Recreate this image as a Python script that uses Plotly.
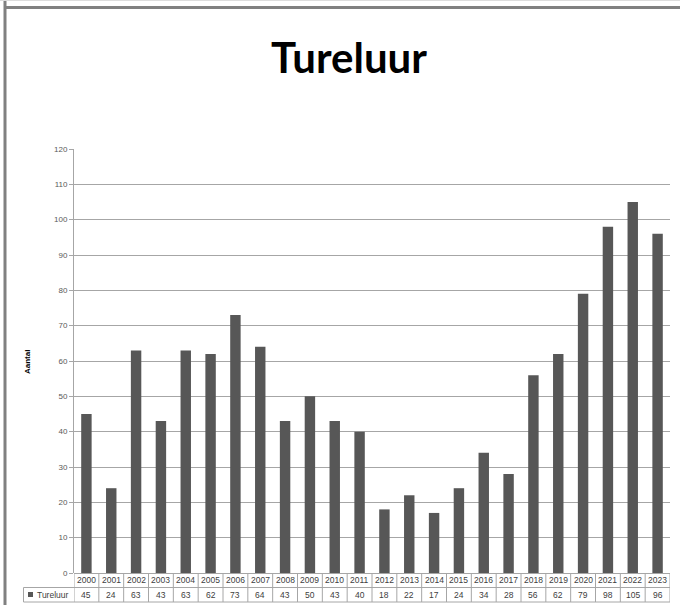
import plotly.graph_objects as go

years = [str(y) for y in range(2000, 2024)]
counts = [45, 24, 63, 43, 63, 62, 73, 64, 43, 50, 43, 40, 18, 22, 17, 24, 34, 28, 56, 62, 79, 98, 105, 96]
series_name = "Tureluur"
title_text = "Tureluur"
y_title = "Aantal"
y_ticks = list(range(0, 121, 10))

W, H = 680, 605
L, R, T, B = 74, 10, 149, 32
PW = W - L - R
PH = H - T - B

def px_x(px):
    return (px - L) / PW

def px_y(py):
    return (H - B - py) / PH

xs = list(range(len(years)))

fig = go.Figure()
fig.add_trace(go.Bar(x=xs, y=counts, marker=dict(color="#575757", line=dict(width=0)),
                     name=series_name, showlegend=False))

shapes = []
grid_col = "#a6a6a6"
row1_top, row_mid, row_bot = 573, 587.5, 602
for i in range(len(years) + 1):
    shapes.append(dict(type="line", xref="x", yref="paper", x0=i - 0.5, x1=i - 0.5,
                       y0=px_y(row1_top), y1=px_y(row_bot), line=dict(color=grid_col, width=1)))
shapes.append(dict(type="line", xref="paper", yref="paper", x0=px_x(23.5), x1=1,
                   y0=px_y(row_mid), y1=px_y(row_mid), line=dict(color=grid_col, width=1)))
shapes.append(dict(type="line", xref="paper", yref="paper", x0=px_x(23.5), x1=1,
                   y0=px_y(row_bot), y1=px_y(row_bot), line=dict(color=grid_col, width=1)))
shapes.append(dict(type="line", xref="paper", yref="paper", x0=px_x(23.5), x1=px_x(23.5),
                   y0=px_y(row_mid), y1=px_y(row_bot), line=dict(color=grid_col, width=1)))
shapes.append(dict(type="rect", xref="paper", yref="paper", x0=px_x(28), x1=px_x(33),
                   y0=px_y(597), y1=px_y(592), fillcolor="#575757", line=dict(width=0)))
# outer frame
shapes.append(dict(type="line", xref="paper", yref="paper", x0=px_x(5), x1=px_x(5),
                   y0=px_y(0), y1=px_y(H), line=dict(color="#808080", width=3)))
shapes.append(dict(type="line", xref="paper", yref="paper", x0=px_x(4), x1=px_x(W),
                   y0=px_y(7.5), y1=px_y(7.5), line=dict(color="#808080", width=3)))
shapes.append(dict(type="line", xref="paper", yref="paper", x0=px_x(0), x1=px_x(W),
                   y0=px_y(0.5), y1=px_y(0.5), line=dict(color="#dddddd", width=1)))

annotations = []
tfont = dict(family="Liberation Sans, Arial", size=8.5, color="#404040")
for i, (yr, v) in enumerate(zip(years, counts)):
    annotations.append(dict(x=i, y=px_y((row1_top + row_mid) / 2), xref="x", yref="paper",
                            text=yr, showarrow=False, font=tfont, xanchor="center", yanchor="middle"))
    annotations.append(dict(x=i, y=px_y((row_mid + row_bot) / 2), xref="x", yref="paper",
                            text=str(v), showarrow=False, font=tfont, xanchor="center", yanchor="middle"))
annotations.append(dict(x=px_x(35), y=px_y((row_mid + row_bot) / 2), xref="paper", yref="paper",
                        text=series_name, showarrow=False, font=tfont, xanchor="left", yanchor="middle"))
annotations.append(dict(x=px_x(349), y=px_y(57), xref="paper", yref="paper", text="<b>" + title_text + "</b>",
                        showarrow=False, font=dict(family="Lato, Open Sans", size=42, color="#000000"),
                        xanchor="center", yanchor="middle"))
annotations.append(dict(x=px_x(27), y=px_y(362), xref="paper", yref="paper", text="<b>" + y_title + "</b>",
                        showarrow=False, textangle=-90, font=dict(family="Liberation Sans, Arial", size=8, color="#000000"),
                        xanchor="center", yanchor="middle"))

fig.update_layout(
    width=W, height=H,
    margin=dict(l=L, r=R, t=T, b=B, autoexpand=False),
    paper_bgcolor="white", plot_bgcolor="white",
    bargap=0.58,
    showlegend=False,
    shapes=shapes,
    annotations=annotations,
    xaxis=dict(range=[-0.5, len(years) - 0.5], showticklabels=False, showgrid=False,
               zeroline=False, showline=False, ticks="", fixedrange=True),
    yaxis=dict(range=[0, 120], tickvals=y_ticks, showgrid=True, gridcolor=grid_col, gridwidth=1,
               zeroline=True, zerolinecolor=grid_col, zerolinewidth=1,
               showline=True, linecolor=grid_col, linewidth=1,
               ticks="outside", ticklen=4, tickcolor=grid_col,
               tickfont=dict(family="Liberation Sans, Arial", size=8, color="#595959"),
               fixedrange=True),
)

fig.write_html("out.html", config={"displayModeBar": False},
               post_script="document.body.style.margin='0';document.body.style.overflow='hidden';")
